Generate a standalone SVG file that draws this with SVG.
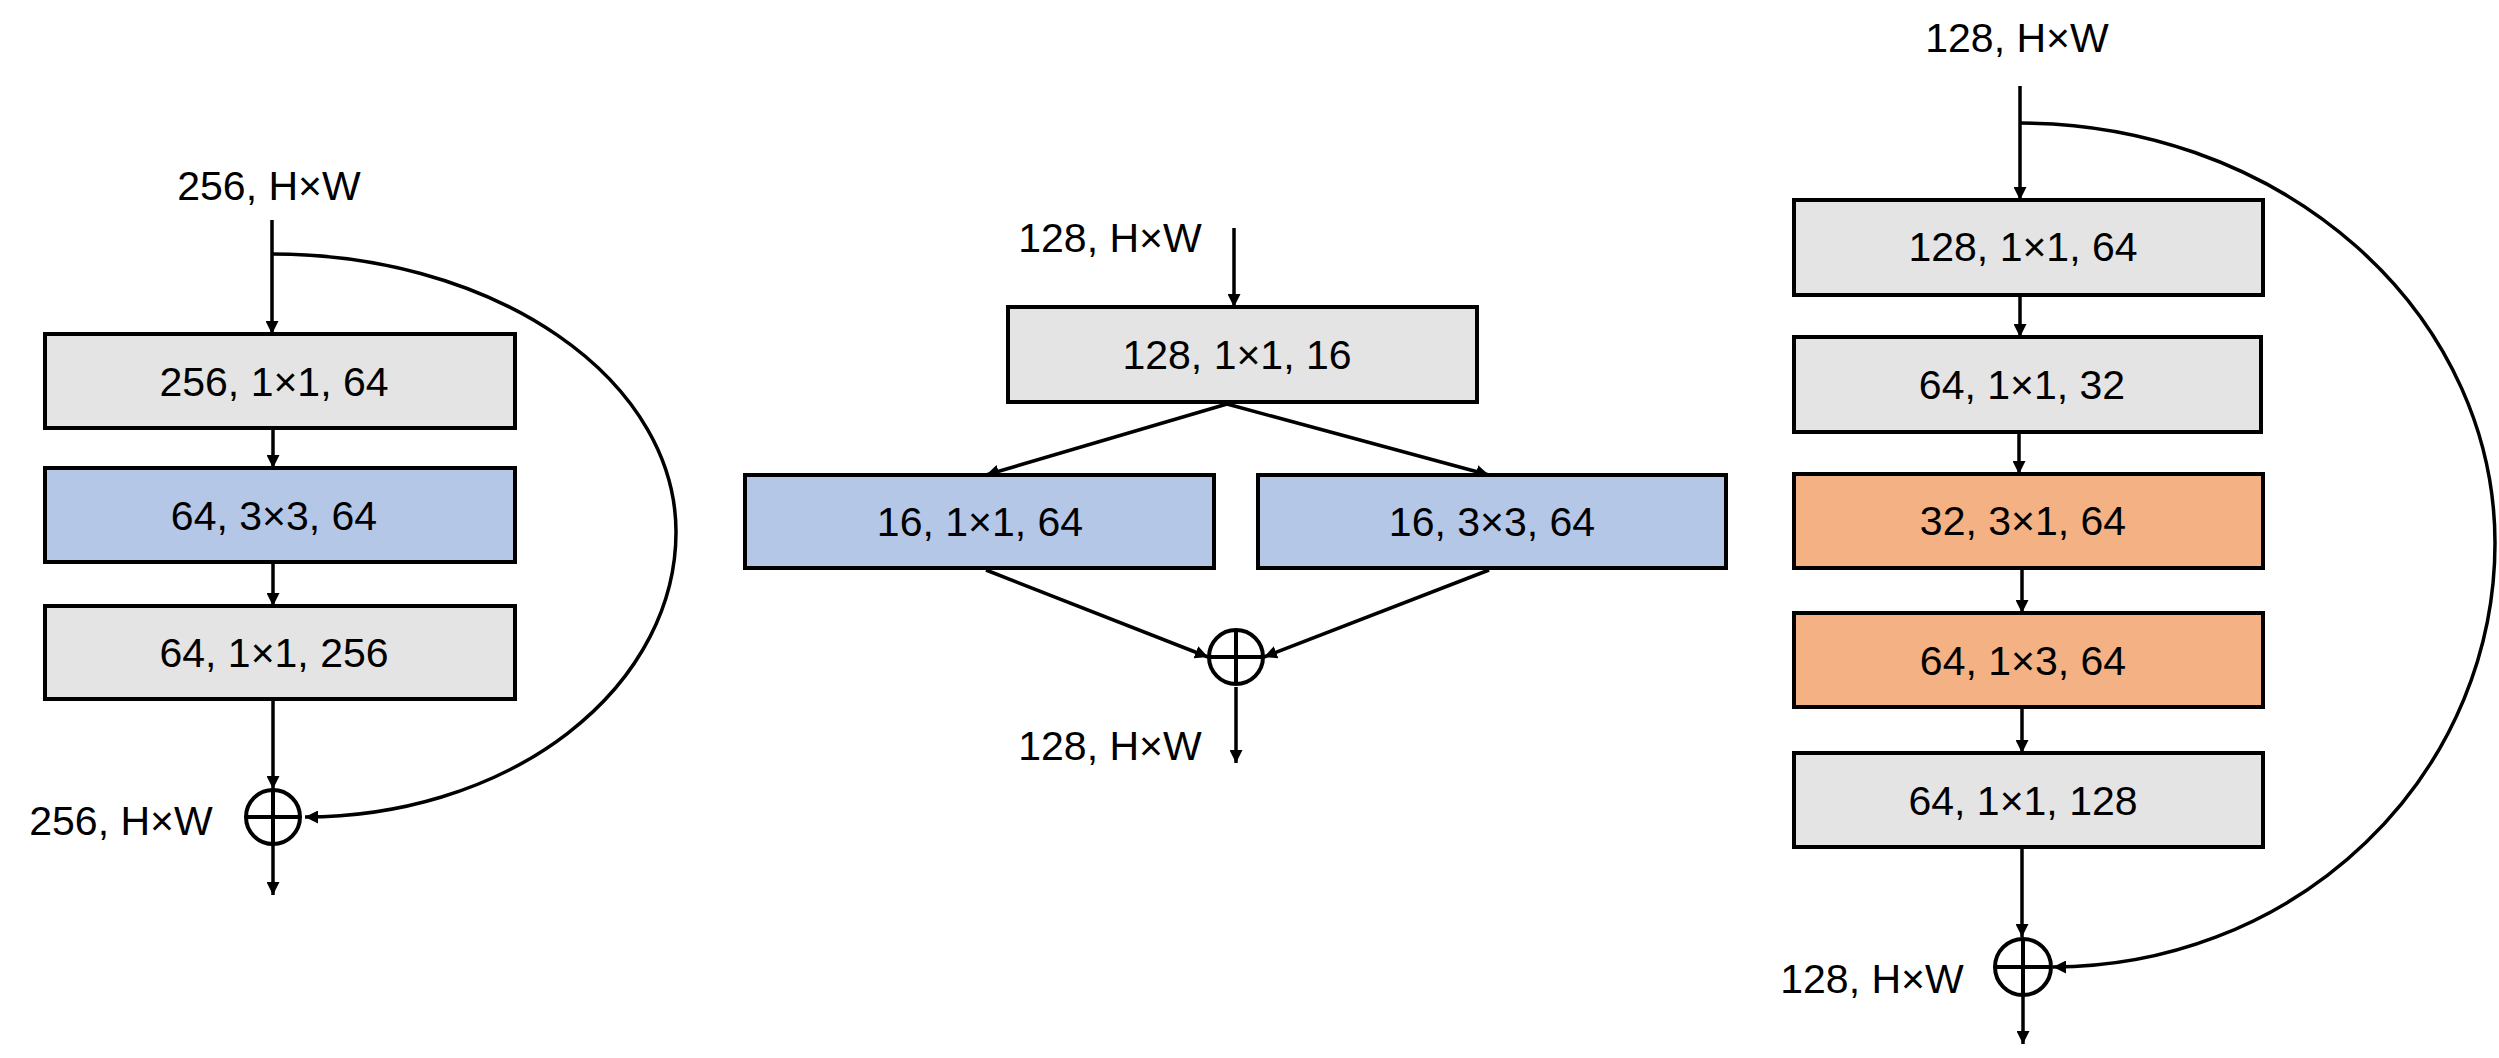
<svg xmlns="http://www.w3.org/2000/svg" width="2499" height="1058" viewBox="0 0 2499 1058">
<defs>
<marker id="ah" viewBox="0 0 12 12" markerWidth="13" markerHeight="13" markerUnits="userSpaceOnUse" refX="12" refY="6" orient="auto">
<path d="M0,0 L12,6 L0,12 z" fill="#000"/>
</marker>
<style>
.t{font-family:"Liberation Sans",Arial,sans-serif;font-size:41px;fill:#000;text-anchor:middle}
.box{stroke:#000;stroke-width:4}
.g{fill:#E4E4E4}
.b{fill:#B4C7E7}
.o{fill:#F4B183}
.c{fill:none;stroke:#000;stroke-width:3.5;marker-end:url(#ah)}
.p{fill:none;stroke:#000;stroke-width:4}
</style>
</defs>
<rect width="2499" height="1058" fill="#fff"/>

<g id="connectors">
<!-- left -->
<line class="c" x1="272" y1="220" x2="272" y2="334"/>
<line class="c" x1="273" y1="428" x2="273" y2="468"/>
<line class="c" x1="273" y1="562" x2="273" y2="606"/>
<line class="c" x1="273" y1="699" x2="273" y2="789"/>
<line class="c" x1="273" y1="845" x2="273" y2="895"/>
<path class="c" d="M272 254 A 404 278 0 0 1 676 532 A 371 285 0 0 1 305 817"/>
<!-- middle -->
<line class="c" x1="1234" y1="228" x2="1234" y2="307"/>
<line class="c" x1="1227" y1="404" x2="986" y2="475"/>
<line class="c" x1="1227" y1="404" x2="1489" y2="475"/>
<line class="c" x1="986" y1="570" x2="1208" y2="657"/>
<line class="c" x1="1489" y1="570" x2="1264" y2="657"/>
<line class="c" x1="1236" y1="687" x2="1236" y2="763"/>
<!-- right -->
<line class="c" x1="2020" y1="86" x2="2020" y2="200"/>
<line class="c" x1="2020" y1="295" x2="2020" y2="337"/>
<line class="c" x1="2019" y1="432" x2="2019" y2="474"/>
<line class="c" x1="2022" y1="568" x2="2022" y2="613"/>
<line class="c" x1="2022" y1="707" x2="2022" y2="753"/>
<line class="c" x1="2022" y1="847" x2="2022" y2="937"/>
<line class="c" x1="2023" y1="995" x2="2023" y2="1044"/>
<path class="c" d="M2020 123 A 475 420 0 0 1 2495 543 A 442 424 0 0 1 2053 967"/>
</g>

<g id="left-in"><text class="t" x="269" y="200">256, H×W</text></g>
<g id="left-conv1"><rect class="box g" x="45" y="334" width="470" height="94"/><text class="t" x="274" y="396">256, 1×1, 64</text></g>
<g id="left-conv2"><rect class="box b" x="45" y="468" width="470" height="94"/><text class="t" x="274" y="530">64, 3×3, 64</text></g>
<g id="left-conv3"><rect class="box g" x="45" y="606" width="470" height="93"/><text class="t" x="274" y="667">64, 1×1, 256</text></g>
<g id="left-add"><circle class="p" cx="273" cy="817" r="27" fill="#fff"/><line class="p" x1="246" y1="817" x2="300" y2="817"/><line class="p" x1="273" y1="790" x2="273" y2="844"/></g>
<g id="left-out"><text class="t" x="121" y="835">256, H×W</text></g>

<g id="mid-in"><text class="t" x="1110" y="252">128, H×W</text></g>
<g id="mid-conv1"><rect class="box g" x="1008" y="307" width="469" height="95"/><text class="t" x="1237" y="369">128, 1×1, 16</text></g>
<g id="mid-conv2a"><rect class="box b" x="745" y="475" width="469" height="93"/><text class="t" x="980" y="536">16, 1×1, 64</text></g>
<g id="mid-conv2b"><rect class="box b" x="1258" y="475" width="468" height="93"/><text class="t" x="1492" y="536">16, 3×3, 64</text></g>
<g id="mid-add"><circle class="p" cx="1236" cy="657" r="27" fill="#fff"/><line class="p" x1="1209" y1="657" x2="1263" y2="657"/><line class="p" x1="1236" y1="630" x2="1236" y2="684"/></g>
<g id="mid-out"><text class="t" x="1110" y="760">128, H×W</text></g>

<g id="right-in"><text class="t" x="2017" y="52">128, H×W</text></g>
<g id="right-conv1"><rect class="box g" x="1794" y="200" width="469" height="95"/><text class="t" x="2023" y="261">128, 1×1, 64</text></g>
<g id="right-conv2"><rect class="box g" x="1794" y="337" width="467" height="95"/><text class="t" x="2022" y="399">64, 1×1, 32</text></g>
<g id="right-conv3"><rect class="box o" x="1794" y="474" width="469" height="94"/><text class="t" x="2023" y="535">32, 3×1, 64</text></g>
<g id="right-conv4"><rect class="box o" x="1794" y="613" width="469" height="94"/><text class="t" x="2023" y="675">64, 1×3, 64</text></g>
<g id="right-conv5"><rect class="box g" x="1794" y="753" width="469" height="94"/><text class="t" x="2023" y="815">64, 1×1, 128</text></g>
<g id="right-add"><circle class="p" cx="2023" cy="967" r="28" fill="#fff"/><line class="p" x1="1995" y1="967" x2="2051" y2="967"/><line class="p" x1="2023" y1="939" x2="2023" y2="995"/></g>
<g id="right-out"><text class="t" x="1872" y="993">128, H×W</text></g>
</svg>
